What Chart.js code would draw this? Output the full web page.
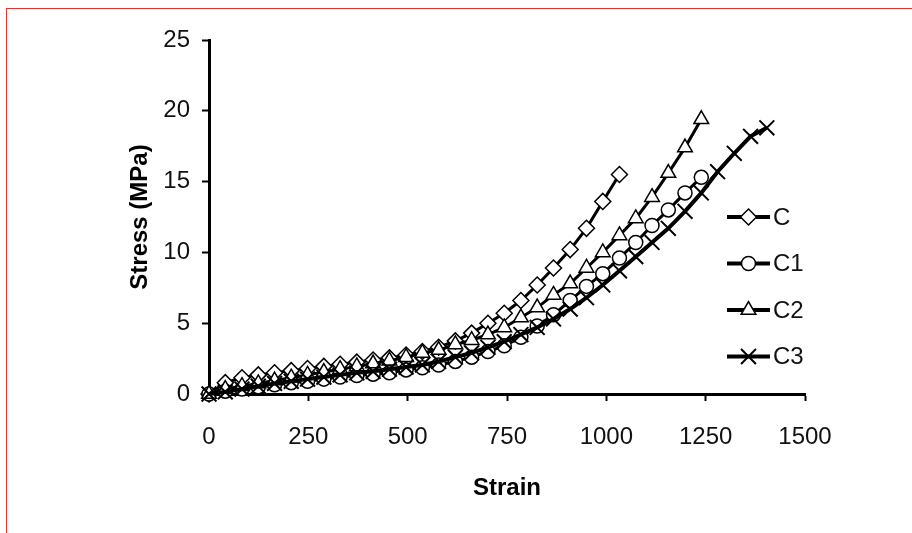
<!DOCTYPE html>
<html>
<head>
<meta charset="utf-8">
<script src="https://cdn.jsdelivr.net/npm/chart.js@4.4.1/dist/chart.umd.min.js"></script>
<style>
  html, body { margin: 0; padding: 0; background: #fff; }
  #wrap { position: relative; width: 912px; height: 533px; overflow: hidden; }
  #frame { position: absolute; left: 6px; top: 8px; right: -4px; bottom: -4px;
           border-top: 1px solid #e8322e; border-left: 1px solid #e8322e; pointer-events: none; }
  canvas { position: absolute; left: 0; top: 0; }
</style>
</head>
<body>
<div id="wrap"><canvas id="chart" width="912" height="533"></canvas><div id="frame"></div></div>
<script>
// strain readings shared by all curves (each curve uses the first N of them)
const strain = [0, 41, 83, 124, 165, 207, 248, 289, 330, 372, 413, 454, 496, 537, 578,
  620, 661, 702, 743, 785, 826, 867, 909, 950, 991, 1033, 1074, 1115, 1156, 1198,
  1239, 1280, 1322, 1363, 1404];

const stressC = [0, 0.8, 1.15, 1.35, 1.5, 1.65, 1.8, 1.95, 2.1, 2.25, 2.4, 2.55, 2.75,
  3.0, 3.3, 3.75, 4.3, 5.0, 5.7, 6.6, 7.7, 8.9, 10.2, 11.7, 13.6, 15.5];

const stressC1 = [0, 0.2, 0.35, 0.5, 0.65, 0.8, 0.9, 1.05, 1.2, 1.3, 1.4, 1.5, 1.7, 1.85,
  2.05, 2.3, 2.6, 3.0, 3.4, 4.0, 4.8, 5.6, 6.6, 7.6, 8.5, 9.6, 10.7, 11.9, 13.0, 14.2, 15.3];

const stressC2 = [0, 0.35, 0.55, 0.75, 0.95, 1.15, 1.35, 1.55, 1.75, 1.95, 2.15, 2.35, 2.6,
  2.9, 3.1, 3.5, 3.8, 4.2, 4.7, 5.4, 6.1, 7.0, 7.8, 8.9, 10.0, 11.2, 12.4, 13.9, 15.6, 17.4, 19.4];

const stressC3 = [0, 0.15, 0.35, 0.55, 0.75, 0.9, 1.05, 1.2, 1.35, 1.5, 1.6, 1.75, 1.9, 2.05,
  2.3, 2.6, 2.9, 3.3, 3.7, 4.2, 4.7, 5.3, 6.0, 6.8, 7.7, 8.7, 9.7, 10.7, 11.7, 12.9, 14.2,
  15.7, 17.0, 18.2, 18.8];

const seriesNames = ["C", "C1", "C2", "C3"];
const xTicks = [0, 250, 500, 750, 1000, 1250, 1500];
const yTicks = [0, 5, 10, 15, 20, 25];

const toPoints = (ys) => ys.map((y, i) => ({ x: strain[i], y }));

const styles = [
  { pointStyle: "rectRot", radius: 8, lineWidth: 3, pointBorderWidth: 1.5 },
  { pointStyle: "circle", radius: 7, lineWidth: 3, pointBorderWidth: 1.5 },
  { pointStyle: "triangle", radius: 8.5, lineWidth: 3, pointBorderWidth: 1.5 },
  { pointStyle: "crossRot", radius: 10.5, lineWidth: 4, pointBorderWidth: 2 },
];

const makeDataset = (label, ys, i) => ({
  label,
  data: toPoints(ys),
  borderColor: "#000",
  borderWidth: styles[i].lineWidth,
  pointStyle: styles[i].pointStyle,
  pointRadius: styles[i].radius,
  pointBorderWidth: styles[i].pointBorderWidth,
  pointBackgroundColor: "#fff",
  pointBorderColor: "#000",
  tension: 0,
  clip: false,
  order: 3 - i,
});

// Legend drawn inside the plot, to the right of the curves
const insideLegend = {
  id: "insideLegend",
  afterDraw(chart) {
    const ctx = chart.ctx;
    const x0 = 727, x1 = 770, firstY = 217, stepY = 46.5;
    chart.data.datasets.forEach((ds, i) => {
      const y = firstY + i * stepY;
      ctx.save();
      ctx.strokeStyle = "#000";
      ctx.lineWidth = 4;
      ctx.beginPath();
      ctx.moveTo(x0, y);
      ctx.lineTo(x1, y);
      ctx.stroke();
      ctx.fillStyle = "#fff";
      ctx.lineWidth = ds.pointBorderWidth;
      Chart.helpers.drawPoint(ctx, {
        pointStyle: ds.pointStyle,
        radius: ds.pointRadius,
        borderWidth: ds.pointBorderWidth,
        rotation: 0,
      }, (x0 + x1) / 2, y);
      ctx.fillStyle = "#111";
      ctx.font = "24px 'Liberation Sans', Arial, sans-serif";
      ctx.textBaseline = "middle";
      ctx.textAlign = "left";
      ctx.fillText(ds.label, x1 + 3, y + 1);
      ctx.restore();
    });
  },
};

const tickFont = { family: "'Liberation Sans', Arial, sans-serif", size: 24 };
const titleFont = { family: "'Liberation Sans', Arial, sans-serif", size: 24, weight: "bold" };

new Chart(document.getElementById("chart").getContext("2d"), {
  type: "line",
  data: {
    datasets: [
      makeDataset(seriesNames[0], stressC, 0),
      makeDataset(seriesNames[1], stressC1, 1),
      makeDataset(seriesNames[2], stressC2, 2),
      makeDataset(seriesNames[3], stressC3, 3),
    ],
  },
  options: {
    responsive: false,
    animation: false,
    devicePixelRatio: 1,
    layout: { padding: { left: 0, top: 40, right: 107, bottom: 0 } },
    plugins: {
      legend: { display: false },
      tooltip: { enabled: false },
    },
    scales: {
      x: {
        type: "linear",
        min: xTicks[0],
        max: xTicks[xTicks.length - 1],
        afterBuildTicks: (scale) => { scale.ticks = xTicks.map((v) => ({ value: v })); },
        afterFit: (scale) => { scale.height = 139; },
        ticks: { font: tickFont, color: "#111", padding: 22, maxRotation: 0, callback: (v) => String(v) },
        grid: { drawOnChartArea: false, drawTicks: true, tickLength: 7, tickWidth: 2, tickColor: "#000" },
        border: { display: true, color: "#000", width: 3 },
        title: { display: true, text: "Strain", font: titleFont, color: "#000", padding: { top: 0, bottom: 30 } },
      },
      y: {
        type: "linear",
        min: yTicks[0],
        max: yTicks[yTicks.length - 1],
        afterBuildTicks: (scale) => { scale.ticks = yTicks.map((v) => ({ value: v })); },
        afterFit: (scale) => { scale.width = 209; },
        ticks: { font: tickFont, color: "#111", padding: 12, callback: (v) => String(v) },
        grid: { drawOnChartArea: false, drawTicks: true, tickLength: 7, tickWidth: 2, tickColor: "#000" },
        border: { display: true, color: "#000", width: 3 },
        title: { display: true, text: "Stress (MPa)", font: titleFont, color: "#000", padding: { top: 126, bottom: 0 } },
      },
    },
  },
  plugins: [insideLegend],
});
</script>
</body>
</html>
